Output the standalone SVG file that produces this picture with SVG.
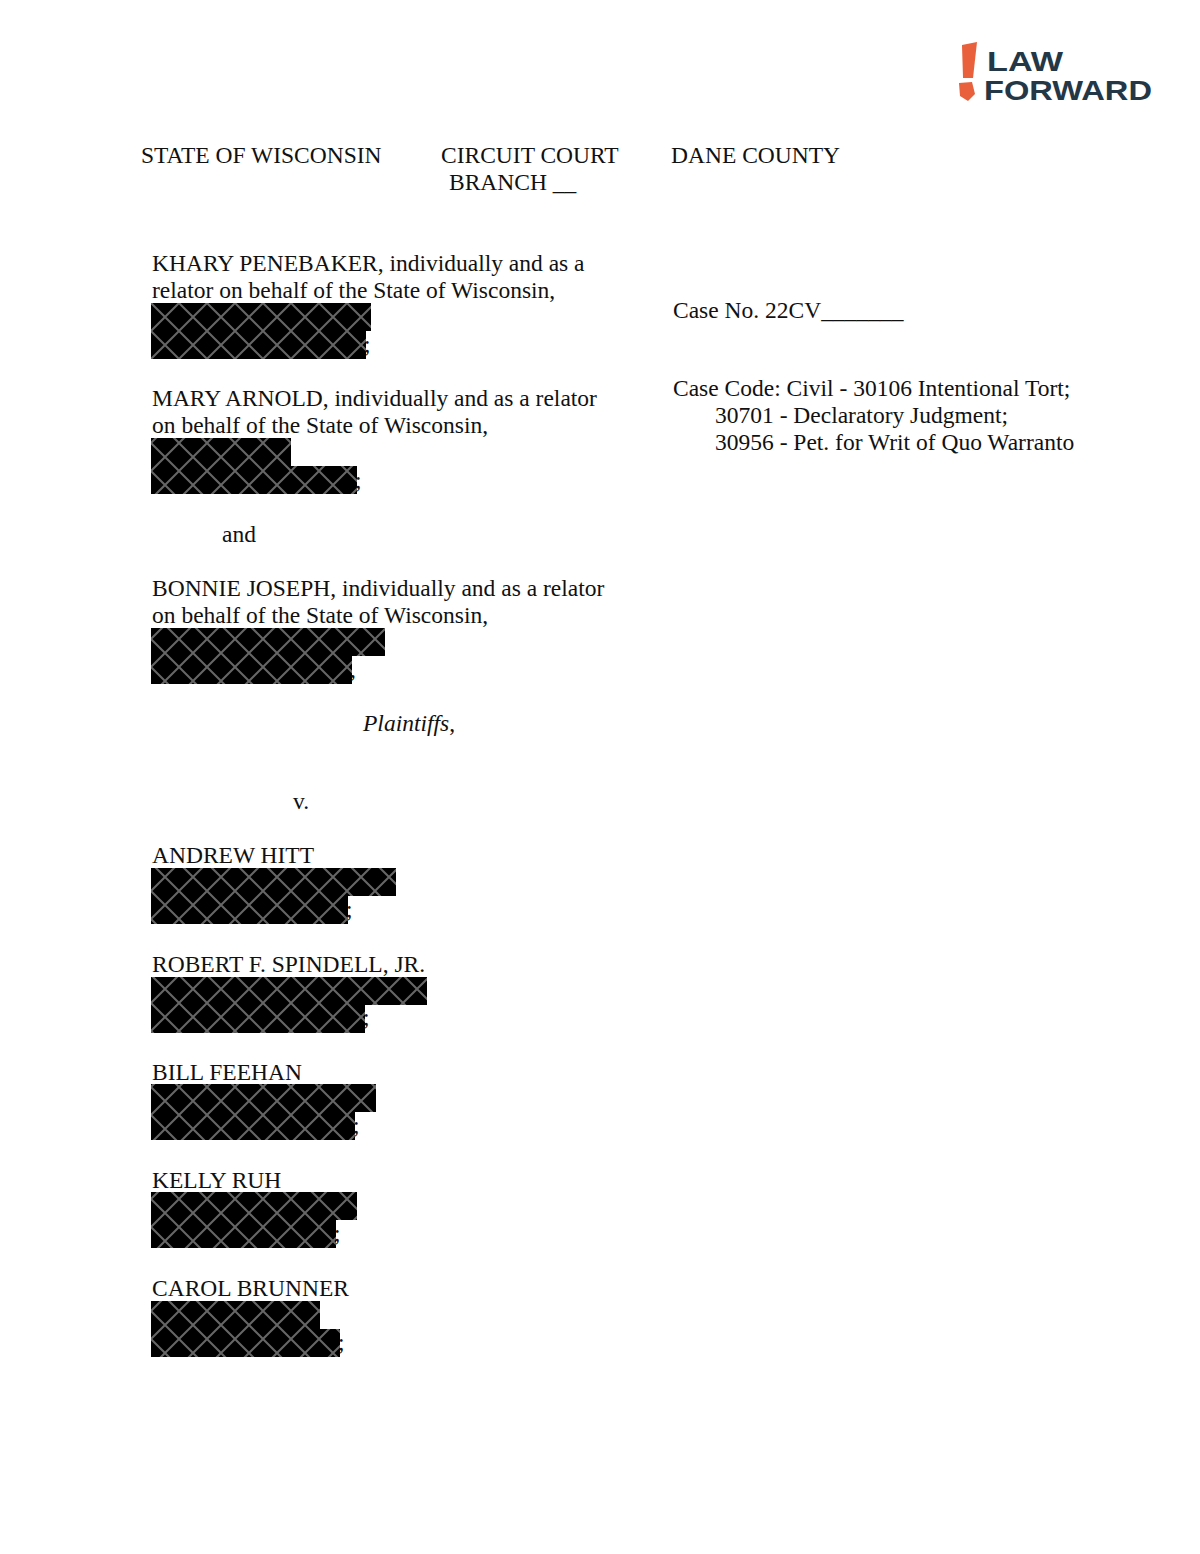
<svg xmlns="http://www.w3.org/2000/svg" width="1200" height="1554" viewBox="0 0 1200 1554">
<style>
text{font-family:"Liberation Serif","Times New Roman",serif;font-size:23.5px;fill:#111}
.r{fill:url(#hatch)}
.logo{font-family:"Liberation Sans",Arial,sans-serif;font-weight:bold;font-size:28px;fill:#243746}
</style>
<defs>
<pattern id="hatch" patternUnits="userSpaceOnUse" width="28" height="28" x="151" y="303">
<rect width="28" height="28" fill="#000"/>
<path d="M0 0L28 28M28 0L0 28" stroke="#666" stroke-width="2"/>
</pattern>
</defs>
<rect width="1200" height="1554" fill="#fff"/>
<g id="logo">
<polygon points="962,45 977,42 973,78 963,78" fill="#e8603c"/>
<polygon points="959,83 972,82 975,94 968,101 960,96" fill="#e8603c"/>
<text class="logo" x="987" y="71" textLength="76" lengthAdjust="spacingAndGlyphs">LAW</text>
<text class="logo" x="984" y="100" textLength="168" lengthAdjust="spacingAndGlyphs">FORWARD</text>
</g>
<g id="header">
<text x="141" y="163">STATE OF WISCONSIN</text>
<text x="441" y="163">CIRCUIT COURT</text>
<text x="449" y="190">BRANCH __</text>
<text x="671" y="163">DANE COUNTY</text>
</g>
<g id="case">
<text x="673" y="318">Case No. 22CV_______</text>
<text x="673" y="396">Case Code: Civil - 30106 Intentional Tort;</text>
<text x="715" y="423">30701 - Declaratory Judgment;</text>
<text x="715" y="450">30956 - Pet. for Writ of Quo Warranto</text>
</g>
<g id="plaintiffs">
<text x="152" y="271">KHARY PENEBAKER, individually and as a</text>
<text x="152" y="298">relator on behalf of the State of Wisconsin,</text>
<rect class="r" x="151" y="303" width="220" height="28"/><rect class="r" x="151" y="331" width="215" height="28"/>
<text x="364" y="352">;</text>
<text x="152" y="406">MARY ARNOLD, individually and as a relator</text>
<text x="152" y="433">on behalf of the State of Wisconsin,</text>
<rect class="r" x="151" y="438" width="140" height="28"/><rect class="r" x="151" y="466" width="206" height="28"/>
<text x="355" y="488">;</text>
<text x="222" y="542">and</text>
<text x="152" y="596">BONNIE JOSEPH, individually and as a relator</text>
<text x="152" y="623">on behalf of the State of Wisconsin,</text>
<rect class="r" x="151" y="628" width="234" height="28"/><rect class="r" x="151" y="656" width="201" height="28"/>
<text x="350" y="677">,</text>
<text x="363" y="731"><tspan font-style="italic">Plaintiffs</tspan>,</text>
<text x="293" y="809">v.</text>
</g>
<g id="defendants">
<text x="152" y="863">ANDREW HITT</text>
<rect class="r" x="151" y="868" width="245" height="28"/><rect class="r" x="151" y="896" width="197" height="28"/>
<text x="346" y="917">;</text>
<text x="152" y="972">ROBERT F. SPINDELL, JR.</text>
<rect class="r" x="151" y="977" width="276" height="28"/><rect class="r" x="151" y="1005" width="214" height="28"/>
<text x="363" y="1025">;</text>
<text x="152" y="1080">BILL FEEHAN</text>
<rect class="r" x="151" y="1084" width="225" height="28"/><rect class="r" x="151" y="1112" width="204" height="28"/>
<text x="353" y="1133">;</text>
<text x="152" y="1188">KELLY RUH</text>
<rect class="r" x="151" y="1192" width="206" height="28"/><rect class="r" x="151" y="1220" width="185" height="28"/>
<text x="334" y="1241">;</text>
<text x="152" y="1296">CAROL BRUNNER</text>
<rect class="r" x="151" y="1301" width="169" height="28"/><rect class="r" x="151" y="1329" width="189" height="28"/>
<text x="338" y="1350">;</text>
</g>
</svg>
